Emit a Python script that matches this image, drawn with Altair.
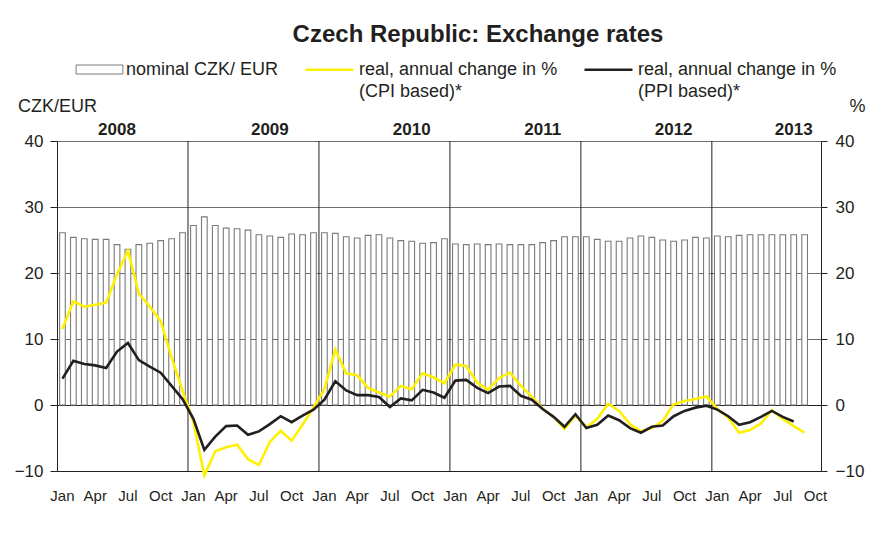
import altair as alt
import pandas as pd

# ---------------- data ----------------
years = [2008, 2009, 2010, 2011, 2012, 2013]
n_slots = 70  # Jan 2008 ... Oct 2013 (last slot empty)

nominal_czk_eur = [
    26.1, 25.4, 25.2, 25.1, 25.1, 24.3, 23.6, 24.3, 24.5, 24.9, 25.2, 26.1,
    27.2, 28.5, 27.2, 26.8, 26.7, 26.5, 25.8, 25.6, 25.4, 25.9, 25.8, 26.1,
    26.1, 26.0, 25.5, 25.3, 25.7, 25.8, 25.3, 24.9, 24.8, 24.5, 24.6, 25.2,
    24.4, 24.3, 24.4, 24.3, 24.4, 24.3, 24.3, 24.3, 24.6, 24.9, 25.5, 25.5,
    25.5, 25.1, 24.8, 24.8, 25.3, 25.6, 25.4, 25.0, 24.8, 25.0, 25.4, 25.3,
    25.6, 25.5, 25.7, 25.8, 25.8, 25.8, 25.8, 25.8, 25.8,
]
real_cpi = [
    11.5, 15.7, 14.9, 15.2, 15.5, 19.8, 23.4, 16.9, 14.9, 12.7, 7.2, 2.2,
    -2.6, -10.7, -7.0, -6.4, -6.0, -8.2, -9.1, -5.6, -3.9, -5.4, -3.0, -0.4,
    2.4, 8.4, 4.8, 4.5, 2.6, 1.9, 1.3, 2.9, 2.4, 4.8, 4.2, 3.3,
    6.1, 5.9, 3.4, 2.3, 4.1, 4.9, 2.9, 1.3, -0.6, -1.8, -3.6, -1.6,
    -3.4, -2.1, 0.2, -0.9, -2.9, -4.0, -3.5, -2.4, 0.1, 0.6, 0.9, 1.3,
    -0.6, -1.9, -4.2, -3.8, -2.8, -0.8, -2.1, -3.2, -4.2,
]
real_ppi = [
    4.0, 6.7, 6.2, 6.0, 5.6, 8.1, 9.4, 6.8, 5.8, 4.9, 2.9, 0.9,
    -2.1, -6.8, -4.8, -3.2, -3.1, -4.5, -4.0, -2.9, -1.7, -2.6, -1.6, -0.7,
    0.8, 3.6, 2.2, 1.5, 1.5, 1.2, -0.3, 1.0, 0.7, 2.3, 1.9, 1.1,
    3.7, 3.8, 2.6, 1.8, 2.8, 2.9, 1.4, 0.8, -0.6, -1.8, -3.3, -1.4,
    -3.5, -3.0, -1.6, -2.3, -3.5, -4.2, -3.3, -3.1, -1.7, -0.9, -0.4, -0.1,
    -0.7, -1.7, -3.0, -2.6, -1.8, -0.9, -1.8, -2.5,
]
y_ticks = [-10, 0, 10, 20, 30, 40]
month_axis_labels = ["Jan", "Apr", "Jul", "Oct"]
year_label_slots = ["2008-06", "2009-08", "2010-09", "2011-09", "2012-09", "2013-08"]

name_bar = "nominal CZK/ EUR"
name_cpi = "real, annual change in %|(CPI based)*"
name_ppi = "real, annual change in %|(PPI based)*"

title_text = "Czech Republic: Exchange rates"

# ---------------- tables ----------------
months = [f"{y}-{m:02d}" for y in years for m in range(1, 13)][:n_slots]
quarter_months = [m for m in months if int(m[5:]) in (1, 4, 7, 10)]
year_starts = [f"{y}-01" for y in years[1:]]

bars_df = pd.DataFrame({"month": months[:len(nominal_czk_eur)],
                        "value": nominal_czk_eur, "series": name_bar})
lines_df = pd.concat([
    pd.DataFrame({"month": months[:len(real_cpi)], "value": real_cpi, "series": name_cpi}),
    pd.DataFrame({"month": months[:len(real_ppi)], "value": real_ppi, "series": name_ppi}),
])
years_df = pd.DataFrame({"month": year_starts})

FONT = "Liberation Sans"
DARK = "#231f20"
YELLOW = "#fff000"

xscale = alt.Scale(domain=months, paddingInner=0, paddingOuter=0)
yscale = alt.Scale(domain=[-10, 40], nice=False, zero=False)

label_expr = ("['Jan','Apr','Jul','Oct'][(toNumber(substring(datum.value,5,7))-1)/3]")

# year boundary rules + top year axis
rules = alt.Chart(years_df).mark_rule(color=DARK, strokeWidth=1).encode(
    x=alt.X("month:O", scale=xscale, bandPosition=0,
            axis=alt.Axis(orient="top", values=year_label_slots, bandPosition=0.5,
                          labelExpr="substring(datum.value, 0, 4)", title=None,
                          ticks=False, tickSize=0, domain=False, labelAngle=0,
                          labelFontSize=17, labelFontWeight="bold", labelColor=DARK,
                          labelPadding=3, labelFont=FONT)),
)

bars = alt.Chart(bars_df).mark_bar(fill="white", strokeWidth=1.1,
                                   width=alt.RelativeBandSize(0.52)).encode(
    x=alt.X("month:O", scale=xscale,
            axis=alt.Axis(orient="bottom", values=quarter_months, labelExpr=label_expr,
                          title=None, ticks=False, tickSize=0, labelAngle=0,
                          labelFontSize=15, labelColor=DARK, labelPadding=17,
                          domainColor=DARK, labelFont=FONT)),
    y=alt.Y("value:Q", scale=yscale,
            axis=alt.Axis(orient="left", values=y_ticks, title="CZK/EUR",
                          titleAngle=0, titleAlign="center", titleBaseline="alphabetic",
                          titleX=0, titleY=-30, titleFontSize=18, titleFontWeight="normal",
                          titleColor=DARK, titleFont=FONT,
                          labelFontSize=17, labelColor=DARK, labelPadding=7, labelFont=FONT,
                          tickSize=7, tickColor=DARK, domainColor=DARK,
                          grid=True,
                          gridColor={"condition": {"test": "datum.value <= 0", "value": DARK},
                                     "value": "#6e6e6e"})),
    stroke=alt.Stroke("series:N", scale=alt.Scale(domain=[name_bar], range=["#7a7a7a"]),
                      legend=alt.Legend(title=None, orient="none", legendX=33, legendY=-81,
                                        symbolType="M-2.6,-0.5H2.6V0.5H-2.6Z", symbolSize=324,
                                        symbolFillColor="white", symbolStrokeWidth=1,
                                        labelFontSize=18, labelOffset=17, labelLimit=400,
                                        labelColor=DARK, labelFont=FONT, padding=0)),
)

lines = alt.Chart(lines_df).mark_line(strokeWidth=2.6).encode(
    x=alt.X("month:O", scale=xscale, axis=None),
    y=alt.Y("value:Q", scale=yscale,
            axis=alt.Axis(orient="right", values=y_ticks, title="%",
                          titleAngle=0, titleAlign="center", titleBaseline="alphabetic",
                          titleX=36, titleY=-30, titleFontSize=18, titleFontWeight="normal",
                          titleColor=DARK, titleFont=FONT,
                          labelFontSize=17, labelColor=DARK, labelPadding=8, labelFont=FONT,
                          tickSize=6, tickColor=DARK, domainColor=DARK, grid=False)),
    color=alt.Color("series:N", scale=alt.Scale(domain=[name_cpi, name_ppi], range=[YELLOW, DARK]),
                    legend=alt.Legend(title=None, orient="none", legendX=247, legendY=-97,
                                      direction="horizontal", columns=2, columnPadding=21,
                                      symbolType="stroke", symbolSize=2304, symbolStrokeWidth=2.5,
                                      labelFontSize=18, labelOffset=4, labelLimit=400,
                                      labelExpr="split(datum.label, '|')",
                                      labelColor=DARK, labelFont=FONT, padding=0)),
)

chart = alt.layer(rules, bars, lines).resolve_axis(x="independent", y="independent").properties(
    width=764, height=330,
    padding={"left": 6, "top": 15, "right": 5, "bottom": 5},
    title=alt.TitleParams(title_text, font=FONT, fontSize=24, fontWeight="bold", color=DARK,
                          anchor="middle", frame="group", dx=39, offset=-3),
).configure(font=FONT, background="white",
            style={"guide-label": {"lineHeight": 22}}).configure_view(stroke=None)

chart.save("out.html", embed_options={"renderer": "svg", "actions": False})
